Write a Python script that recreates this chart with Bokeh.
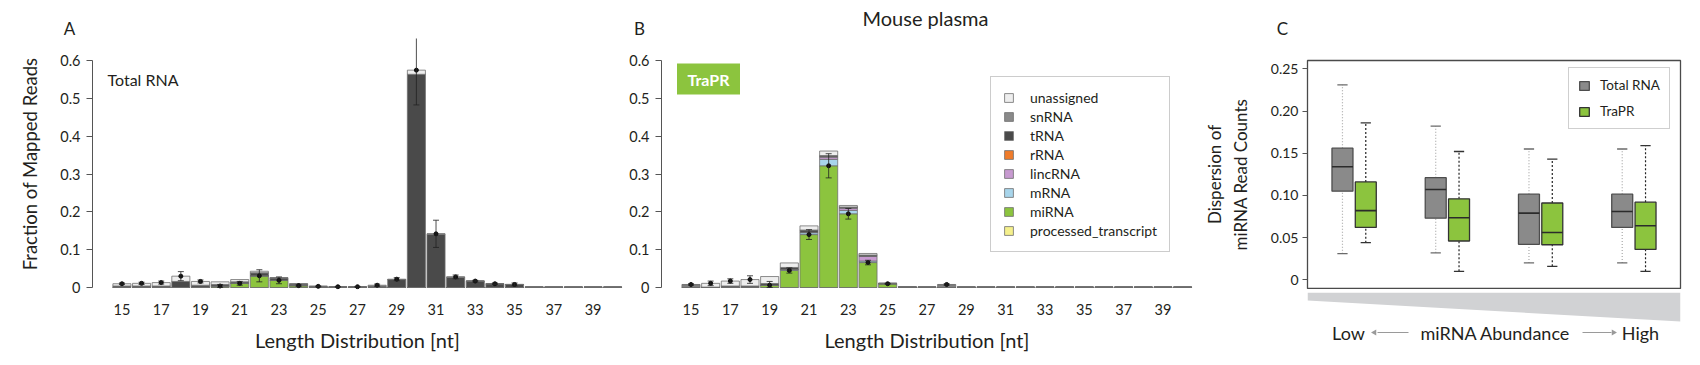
from bokeh.plotting import figure
from bokeh.models import (ColumnDataSource, FixedTicker, CustomJSTickFormatter, Legend, LegendItem,
                          Whisker, TeeHead, LinearAxis, Range1d)
from bokeh.layouts import row, column
from bokeh.embed import file_html
from bokeh.resources import INLINE
from bokeh.core.properties import value

FONT = "Lato"
TXT = "#231f20"

# ---------------- data ----------------
lengths = [15, 16, 17, 18, 19, 20, 21, 22, 23, 24, 25, 26, 27, 28, 29, 30, 31, 32, 33, 34, 35, 36, 37, 38, 39, 40]
x_tick_labels = [15, 17, 19, 21, 23, 25, 27, 29, 31, 33, 35, 37, 39]
y_ticks_AB = [0, 0.1, 0.2, 0.3, 0.4, 0.5, 0.6]
y_ticks_C = [0, 0.05, 0.10, 0.15, 0.20, 0.25]

# stacking order bottom -> top
categories = ["processed_transcript", "miRNA", "mRNA", "lincRNA", "rRNA", "tRNA", "snRNA", "unassigned"]
cat_colors = ["#f5f08c", "#8cc43e", "#a8d5eb", "#c79ad0", "#f07c2a", "#4a4a4a", "#8a8a8a", "#eeeeee"]

# Panel A: Total RNA
A_processed_transcript = [0, 0, 0, 0, 0, 0, 0, 0, 0, 0, 0, 0, 0, 0, 0, 0, 0, 0, 0, 0, 0, 0, 0, 0, 0, 0]
A_miRNA = [0, 0, 0, 0, 0.001, 0.004, 0.011, 0.031, 0.019, 0.005, 0, 0, 0, 0, 0, 0, 0, 0, 0, 0, 0, 0, 0, 0, 0, 0]
A_mRNA = [0, 0, 0, 0, 0, 0, 0, 0, 0, 0, 0, 0, 0, 0, 0, 0, 0, 0, 0, 0, 0, 0, 0, 0, 0, 0]
A_lincRNA = [0, 0, 0, 0, 0, 0, 0, 0, 0, 0, 0, 0, 0, 0, 0, 0, 0, 0, 0, 0, 0, 0, 0, 0, 0, 0]
A_rRNA = [0, 0, 0, 0, 0, 0, 0, 0, 0, 0, 0, 0, 0, 0, 0, 0, 0, 0, 0, 0, 0, 0, 0, 0, 0, 0]
A_tRNA = [0.004, 0.004, 0.004, 0.016, 0.005, 0.004, 0.004, 0.008, 0.006, 0.004, 0.003, 0.002, 0.002, 0.003,
          0.021, 0.564, 0.141, 0.027, 0.017, 0.010, 0.008, 0.0015, 0.0015, 0.0015, 0.0015, 0.0015]
A_snRNA = [0, 0, 0, 0, 0, 0, 0, 0, 0, 0, 0, 0, 0, 0.001, 0, 0, 0, 0, 0, 0, 0, 0, 0, 0, 0, 0]
A_unassigned = [0.006, 0.007, 0.009, 0.014, 0.010, 0.007, 0.006, 0.004, 0.001, 0.001, 0, 0, 0, 0.002,
                0.001, 0.011, 0.001, 0.001, 0, 0, 0, 0, 0, 0, 0, 0]
A_err = [0.002, 0.003, 0.004, 0.012, 0.004, 0.004, 0.005, 0.016, 0.009, 0.002, 0.001, 0.001, 0.001, 0.003,
         0.004, 0.092, 0.036, 0.005, 0.002, 0.002, 0.004, 0, 0, 0, 0, 0]

# Panel B: TraPR
B_processed_transcript = [0, 0, 0, 0, 0, 0, 0, 0, 0, 0, 0, 0, 0, 0, 0, 0, 0, 0, 0, 0, 0, 0, 0, 0, 0, 0]
B_miRNA = [0, 0, 0, 0, 0.006, 0.045, 0.140, 0.322, 0.195, 0.066, 0.010, 0, 0, 0, 0, 0, 0, 0, 0, 0, 0, 0, 0, 0, 0, 0]
B_mRNA = [0, 0, 0, 0, 0, 0.003, 0.005, 0.017, 0.009, 0.004, 0, 0, 0, 0, 0, 0, 0, 0, 0, 0, 0, 0, 0, 0, 0, 0]
B_lincRNA = [0, 0, 0, 0, 0, 0, 0.001, 0.006, 0.006, 0.013, 0, 0, 0, 0, 0, 0, 0, 0, 0, 0, 0, 0, 0, 0, 0, 0]
B_rRNA = [0, 0, 0, 0, 0, 0, 0, 0.001, 0.001, 0, 0, 0, 0, 0, 0, 0, 0, 0, 0, 0, 0, 0, 0, 0, 0, 0]
B_tRNA = [0.001, 0.001, 0.004, 0.004, 0.0045, 0.005, 0.006, 0.003, 0.002, 0.003, 0.001, 0.002, 0.0015, 0.001,
          0.0015, 0.0015, 0.0015, 0.0015, 0.0015, 0.0015, 0.0015, 0.0015, 0.0015, 0.0015, 0.0015, 0.0015]
B_snRNA = [0.006, 0, 0, 0, 0, 0, 0, 0, 0, 0, 0, 0, 0, 0.006, 0, 0, 0, 0, 0, 0, 0, 0, 0, 0, 0, 0]
B_unassigned = [0.001, 0.010, 0.013, 0.017, 0.0185, 0.012, 0.011, 0.012, 0.004, 0.004, 0, 0, 0, 0.001,
                0, 0, 0, 0, 0, 0, 0, 0, 0, 0, 0, 0]
B_err = [0.002, 0.006, 0.006, 0.010, 0.010, 0.007, 0.013, 0.032, 0.014, 0.006, 0.001, 0, 0, 0.002,
         0, 0, 0, 0, 0, 0, 0, 0, 0, 0, 0, 0]

# Panel C: dispersion boxplots (4 abundance bins)
C_bins = [1, 2, 3, 4]
tot_lo = [0.031, 0.032, 0.020, 0.020]
tot_q1 = [0.105, 0.073, 0.042, 0.062]
tot_med = [0.134, 0.107, 0.079, 0.081]
tot_q3 = [0.156, 0.121, 0.1015, 0.1015]
tot_hi = [0.231, 0.182, 0.155, 0.155]
tra_lo = [0.044, 0.010, 0.016, 0.010]
tra_q1 = [0.062, 0.046, 0.0415, 0.036]
tra_med = [0.082, 0.0735, 0.056, 0.064]
tra_q3 = [0.116, 0.096, 0.091, 0.092]
tra_hi = [0.186, 0.152, 0.143, 0.159]

# ---------------- layout geometry (picture px) ----------------
TOTAL_W = 1692
HEAD_H = 38                 # picture y 0..38
ROW_TOP = HEAD_H
BOTTOM = 355
A_X0, A_W, A_FL, A_FR = 0, 626, 92, 622
B_X0, B_W, B_FL, B_FR = 626, 570, 661, 1192
C_X0, C_W, C_FL, C_FR = 1196, 496, 1307, 1680
FR_BOT_AB, Y0_AB = 289, 287
YPPU_AB = 378.0
XR = (13.5, 40.5)


def style_text_axis(ax, size):
    ax.major_label_text_font = FONT
    ax.major_label_text_font_size = size
    ax.major_label_text_color = TXT


def bar_panel(fig_x0, width, fl, fr, data, err, ylabel):
    yr = ((Y0_AB - FR_BOT_AB) / YPPU_AB, (Y0_AB - ROW_TOP) / YPPU_AB)
    p = figure(width=width, height=BOTTOM - ROW_TOP, x_range=XR, y_range=yr, output_backend="svg",
               toolbar_location=None, title=None,
               min_border_left=int(round(fl - fig_x0)), min_border_right=int(round(fig_x0 + width - fr)),
               min_border_top=0, min_border_bottom=BOTTOM - FR_BOT_AB)
    p.xgrid.visible = False
    p.ygrid.visible = False
    p.outline_line_color = None
    src = dict(x=lengths)
    for c, vals in zip(categories, data):
        src[c] = vals
    source = ColumnDataSource(src)
    rs = p.vbar_stack(categories, x="x", width=0.92, source=source, color=cat_colors,
                      line_color="#6e6e6e", line_width=0.8)
    xs, cen, up, lo = [], [], [], []
    for i, L in enumerate(lengths):
        if err[i] <= 0:
            continue
        if data[1][i] > 0.003:
            c = data[0][i] + data[1][i]
        else:
            c = sum(d[i] for d in data)
        xs.append(L)
        cen.append(c)
        up.append(c + err[i])
        lo.append(max(c - err[i], 0))
    es = ColumnDataSource(dict(x=xs, c=cen, up=up, lo=lo))
    p.add_layout(Whisker(base="x", upper="up", lower="lo", source=es, line_color="#222222", line_width=0.8,
                         level="overlay",
                         upper_head=TeeHead(size=6, line_color="#222222", line_width=0.8),
                         lower_head=TeeHead(size=6, line_color="#222222", line_width=0.8)))
    p.scatter("x", "c", source=es, size=4, color="#111111")

    p.yaxis.ticker = FixedTicker(ticks=y_ticks_AB)
    p.yaxis.formatter = CustomJSTickFormatter(code="return tick < 1e-9 ? '0' : tick.toFixed(1);")
    p.yaxis.bounds = (0, 0.6)
    p.yaxis.axis_line_color = "#555555"
    p.yaxis.major_tick_line_color = "#555555"
    p.yaxis.major_tick_out = 6
    p.yaxis.major_tick_in = 0
    p.yaxis.minor_tick_line_color = None
    p.yaxis.major_label_standoff = 6
    style_text_axis(p.yaxis[0], "14.5px")
    if ylabel:
        p.yaxis.axis_label = ylabel
        p.yaxis.axis_label_text_font = FONT
        p.yaxis.axis_label_text_font_size = "18.5px"
        p.yaxis.axis_label_text_font_style = "normal"
        p.yaxis.axis_label_text_color = TXT
        p.yaxis.axis_label_standoff = 16

    p.xaxis.ticker = FixedTicker(ticks=x_tick_labels)
    p.xaxis.axis_line_color = None
    p.xaxis.major_tick_line_color = None
    p.xaxis.minor_tick_line_color = None
    p.xaxis.major_label_standoff = 8
    style_text_axis(p.xaxis[0], "14.5px")
    p.xaxis.axis_label = "Length Distribution [nt]"
    p.xaxis.axis_label_text_font = FONT
    p.xaxis.axis_label_text_font_size = "20px"
    p.xaxis.axis_label_text_font_style = "normal"
    p.xaxis.axis_label_text_color = TXT
    p.xaxis.axis_label_standoff = 10
    return p, rs


def px2x(px, fl, fr):
    return XR[0] + (px - fl) * (XR[1] - XR[0]) / (fr - fl)


def py2y(py):
    return (Y0_AB - py) / YPPU_AB


A_data = [A_processed_transcript, A_miRNA, A_mRNA, A_lincRNA, A_rRNA, A_tRNA, A_snRNA, A_unassigned]
B_data = [B_processed_transcript, B_miRNA, B_mRNA, B_lincRNA, B_rRNA, B_tRNA, B_snRNA, B_unassigned]

pA, rsA = bar_panel(A_X0, A_W, A_FL, A_FR, A_data, A_err, "Fraction of Mapped Reads")
pB, rsB = bar_panel(B_X0, B_W, B_FL, B_FR, B_data, B_err, None)

pA.text(x=[px2x(107, A_FL, A_FR)], y=[py2y(79)], text=["Total RNA"], text_font=value(FONT),
        text_font_size="16px", text_align="left", text_baseline="middle", text_color=TXT)
pB.quad(left=[px2x(676.5, B_FL, B_FR)], right=[px2x(739.5, B_FL, B_FR)], top=[py2y(63)], bottom=[py2y(94)],
        fill_color="#8cc43e", line_color=None)
pB.text(x=[px2x(708, B_FL, B_FR)], y=[py2y(79)], text=["TraPR"], text_font=value(FONT),
        text_font_size="16px", text_font_style="bold", text_align="center", text_baseline="middle",
        text_color="white")

legB = Legend(items=[LegendItem(label=c, renderers=[r]) for c, r in reversed(list(zip(categories, rsB)))],
              location=(990 - B_FL, FR_BOT_AB - 252))
legB.border_line_color = "#9a9a9a"
legB.border_line_width = 1.5
legB.padding = 12
legB.spacing = 2
legB.glyph_width = 11
legB.glyph_height = 11
legB.label_height = 16
legB.label_standoff = 16
legB.label_text_font = FONT
legB.label_text_font_size = "14px"
legB.label_text_color = TXT
legB.margin = 0
pB.add_layout(legB)

# ---------------- header strip (panel letters, title) ----------------
head = figure(width=TOTAL_W, height=HEAD_H, x_range=Range1d(0, TOTAL_W),
              y_range=Range1d(HEAD_H, 0), output_backend="svg", toolbar_location=None,
              title=None, x_axis_type=None, y_axis_type=None, min_border=0)
head.outline_line_color = None
head.xgrid.visible = False
head.ygrid.visible = False
head.text(x=[69, 639, 1282], y=[28, 28, 28], text=["A", "B", "C"], text_font=value(FONT),
          text_font_size="17px", text_align="center", text_baseline="middle", text_color=TXT)
head.text(x=[925], y=[17], text=["Mouse plasma"], text_font=value(FONT), text_font_size="20px",
          text_align="center", text_baseline="middle", text_color=TXT)

# ---------------- panel C ----------------
C_FT, C_FB, C_Y0 = 60, 288, 279.3
C_YPPU = 844.0
CXR = (0.5, 4.5)
cyr = ((C_Y0 - C_FB) / C_YPPU, (C_Y0 - C_FT) / C_YPPU)
C_BOT = C_FB + 1
C_BL = C_FL - C_X0
C_BR = C_X0 + C_W - C_FR
pC = figure(width=C_W, height=C_BOT - ROW_TOP, x_range=CXR, y_range=cyr, output_backend="svg",
            toolbar_location=None, title=None,
            min_border_left=C_BL, min_border_right=C_BR,
            min_border_top=C_FT - ROW_TOP, min_border_bottom=C_BOT - C_FB)
pC.xgrid.visible = False
pC.ygrid.visible = False
pC.outline_line_color = "#4a4a4a"
pC.outline_line_width = 1.3
pC.xaxis.visible = False
pC.yaxis.ticker = FixedTicker(ticks=y_ticks_C)
pC.yaxis.formatter = CustomJSTickFormatter(code="return tick < 1e-9 ? '0' : tick.toFixed(2);")
pC.yaxis.axis_line_color = None
pC.yaxis.major_tick_line_color = "#555555"
pC.yaxis.major_tick_out = 5
pC.yaxis.major_tick_in = 0
pC.yaxis.minor_tick_line_color = None
pC.yaxis.major_label_standoff = 4
style_text_axis(pC.yaxis[0], "14px")
pC.yaxis.axis_label = "miRNA Read Counts"
pC.yaxis.axis_label_text_font = FONT
pC.yaxis.axis_label_text_font_size = "17px"
pC.yaxis.axis_label_text_font_style = "normal"
pC.yaxis.axis_label_text_color = TXT
pC.yaxis.axis_label_standoff = 17
ax2 = LinearAxis(ticker=FixedTicker(ticks=[]), axis_label="Dispersion of", axis_line_color=None,
                 major_tick_line_color=None, minor_tick_line_color=None, axis_label_standoff=2,
                 axis_label_text_font=FONT, axis_label_text_font_size="17px",
                 axis_label_text_font_style="normal", axis_label_text_color=TXT)
pC.add_layout(ax2, "left")

OFF, BW, CAP = 0.125, 0.225, 0.055
boxes = []
for sign, lo, q1, med, q3, hi, fill, bline, wcol, wdash, capcol in [
        (-1, tot_lo, tot_q1, tot_med, tot_q3, tot_hi, "#8a8a8a", "#4d4d4d", "#a8a8a8", "1 2", "#6a6a6a"),
        (1, tra_lo, tra_q1, tra_med, tra_q3, tra_hi, "#8cc43e", "#333333", "#222222", "2 2", "#333333")]:
    xs = [b + sign * OFF for b in C_bins]
    s = ColumnDataSource(dict(x=xs, l=[v - BW / 2 for v in xs], r=[v + BW / 2 for v in xs],
                              cl=[v - CAP for v in xs], cr=[v + CAP for v in xs],
                              lo=lo, q1=q1, med=med, q3=q3, hi=hi))
    pC.segment(x0="x", y0="q3", x1="x", y1="hi", source=s, line_color=wcol, line_dash=wdash, line_width=1.2)
    pC.segment(x0="x", y0="lo", x1="x", y1="q1", source=s, line_color=wcol, line_dash=wdash, line_width=1.2)
    pC.segment(x0="cl", y0="hi", x1="cr", y1="hi", source=s, line_color=capcol, line_width=1.3)
    pC.segment(x0="cl", y0="lo", x1="cr", y1="lo", source=s, line_color=capcol, line_width=1.3)
    r = pC.quad(left="l", right="r", bottom="q1", top="q3", source=s, fill_color=fill, line_color=bline,
                line_width=1.3)
    pC.segment(x0="l", y0="med", x1="r", y1="med", source=s, line_color="#2b2b2b", line_width=1.6)
    boxes.append(r)

legC = Legend(items=[LegendItem(label="Total RNA", renderers=[boxes[0]]),
                     LegendItem(label="TraPR", renderers=[boxes[1]])],
              location=(1568 - C_FL, C_FB - 129))
legC.border_line_color = "#a0a0a0"
legC.border_line_width = 1.5
legC.padding = 9
legC.spacing = 10
legC.glyph_width = 12
legC.glyph_height = 11
legC.label_height = 16
legC.label_standoff = 10
legC.label_text_font = FONT
legC.label_text_font_size = "13.5px"
legC.label_text_color = TXT
legC.margin = 0
pC.add_layout(legC)

# ---------------- footer under panel C (abundance wedge) ----------------
foot = figure(width=C_W, height=BOTTOM - C_BOT, x_range=Range1d(C_FL, C_FR),
              y_range=Range1d(BOTTOM, C_BOT), output_backend="svg", toolbar_location=None,
              title=None, x_axis_type=None, y_axis_type=None, min_border_left=C_BL,
              min_border_right=C_BR, min_border_top=0, min_border_bottom=0)
foot.outline_line_color = None
foot.xgrid.visible = False
foot.ygrid.visible = False
foot.patch(x=[C_FL, C_FR, C_FR, C_FL], y=[292.3, 292.3, 321, 300], fill_color="#d1d2d4", line_color=None)
foot.text(x=[1348, 1495, 1640], y=[332, 332, 332], text=["Low", "miRNA Abundance", "High"],
          text_font=value(FONT), text_font_size="18px", text_align="center", text_baseline="middle",
          text_color=TXT)
foot.segment(x0=[1377, 1582], y0=[332, 332], x1=[1408, 1611], y1=[332, 332], line_color="#9a9a9a",
             line_width=1)
foot.scatter(x=[1374, 1613], y=[332, 332], marker="triangle", angle=[1.5708, -1.5708], size=6,
             fill_color="#9a9a9a", line_color=None)

layout = column(head, row(pA, pB, column(pC, foot, spacing=0), spacing=0), spacing=0)
open("out.html", "w").write(file_html(layout, INLINE))
